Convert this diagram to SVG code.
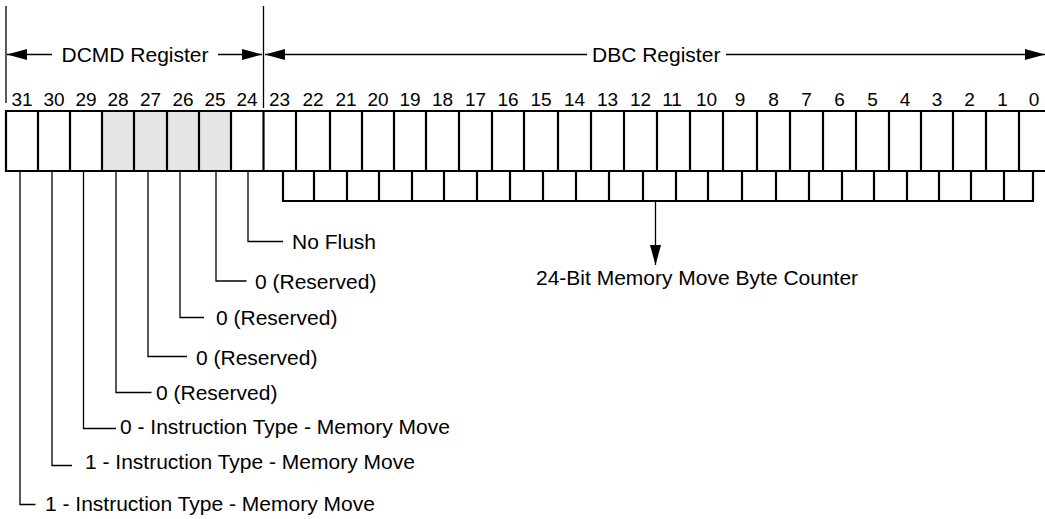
<svg xmlns="http://www.w3.org/2000/svg" width="1045" height="519" viewBox="0 0 1045 519">
<style>
text{font-family:"Liberation Sans",Arial,sans-serif;fill:#000}
.lbl{font-size:21px}
.num{font-size:19px;text-anchor:middle}
.box{fill:none;stroke:#000;stroke-width:2.2}
.gray{fill:#e6e6e6;stroke:none}
.ln{fill:none;stroke:#000;stroke-width:1.3}
.arr{fill:none;stroke:#000;stroke-width:1.3;marker-end:url(#ah)}
</style>
<defs>
<marker id="ah" markerUnits="userSpaceOnUse" markerWidth="20" markerHeight="12" refX="20" refY="6" orient="auto">
<path d="M0,0.5 L20,6 L0,11.5 Z" fill="#000"/>
</marker>
</defs>
<rect width="1045" height="519" fill="#fff"/>
<g id="header">
<path class="ln" d="M6,6 V103 M263.5,6 V108"/>
<path class="arr" d="M52,54.5 H7"/>
<path class="arr" d="M218,54.5 H262"/>
<path class="arr" d="M587,54.5 H265"/>
<path class="arr" d="M726,54.5 H1045"/>
<text class="lbl" x="61.5" y="61.5">DCMD Register</text>
<text class="lbl" x="592" y="61.5">DBC Register</text>
</g>
<g id="bit-numbers">
<text class="num" x="22" y="106">31</text>
<text class="num" x="54" y="106">30</text>
<text class="num" x="86" y="106">29</text>
<text class="num" x="118" y="106">28</text>
<text class="num" x="150.5" y="106">27</text>
<text class="num" x="183" y="106">26</text>
<text class="num" x="215" y="106">25</text>
<text class="num" x="247" y="106">24</text>
<text class="num" x="279.5" y="106">23</text>
<text class="num" x="313" y="106">22</text>
<text class="num" x="346" y="106">21</text>
<text class="num" x="378" y="106">20</text>
<text class="num" x="410" y="106">19</text>
<text class="num" x="442.5" y="106">18</text>
<text class="num" x="475.5" y="106">17</text>
<text class="num" x="508" y="106">16</text>
<text class="num" x="541" y="106">15</text>
<text class="num" x="574.5" y="106">14</text>
<text class="num" x="607.5" y="106">13</text>
<text class="num" x="640.5" y="106">12</text>
<text class="num" x="672" y="106">11</text>
<text class="num" x="706.5" y="106">10</text>
<text class="num" x="740" y="106">9</text>
<text class="num" x="773.5" y="106">8</text>
<text class="num" x="806.5" y="106">7</text>
<text class="num" x="839.5" y="106">6</text>
<text class="num" x="872.5" y="106">5</text>
<text class="num" x="905" y="106">4</text>
<text class="num" x="937" y="106">3</text>
<text class="num" x="969.5" y="106">2</text>
<text class="num" x="1002.5" y="106">1</text>
<text class="num" x="1034" y="106">0</text>
</g>
<g id="register-cells">
<rect class="gray" x="102" y="111" width="129" height="60"/>
<path class="box" d="M1046,111 H6 V171 H1046 M38,111 V171 M70,111 V171 M102,111 V171 M134,111 V171 M167,111 V171 M199,111 V171 M231,111 V171 M263.5,111 V171 M296,111 V171 M330,111 V171 M362,111 V171 M394,111 V171 M426,111 V171 M459,111 V171 M492,111 V171 M524,111 V171 M558,111 V171 M591,111 V171 M624,111 V171 M657,111 V171 M690,111 V171 M723,111 V171 M757,111 V171 M790,111 V171 M823,111 V171 M856,111 V171 M889,111 V171 M921,111 V171 M953,111 V171 M986,111 V171 M1019,111 V171"/>
</g>
<g id="byte-counter-cells">
<path class="box" d="M283,171 V201 H1033 V171 M314,171 V201 M347,171 V201 M379,171 V201 M412,171 V201 M444,171 V201 M477,171 V201 M510,171 V201 M543,171 V201 M576,171 V201 M609,171 V201 M643,171 V201 M676,171 V201 M708,171 V201 M742,171 V201 M776,171 V201 M809,171 V201 M842,171 V201 M874,171 V201 M907,171 V201 M939,171 V201 M971,171 V201 M1004,171 V201"/>
</g>
<g id="connectors">
<path class="ln" d="M248,172 V241.5 H283"/>
<path class="ln" d="M216,172 V281 H246.5"/>
<path class="ln" d="M180,172 V317.5 H204"/>
<path class="ln" d="M148,172 V356.5 H187"/>
<path class="ln" d="M116,172 V392.5 H151.5"/>
<path class="ln" d="M83.5,172 V428.5 H116"/>
<path class="ln" d="M52,172 V465.5 H72"/>
<path class="ln" d="M20,172 V504.5 H35.5"/>
<path class="arr" d="M655.5,202 V265"/>
</g>
<g id="labels">
<text class="lbl" x="292" y="249">No Flush</text>
<text class="lbl" x="255" y="289">0 (Reserved)</text>
<text class="lbl" x="216" y="324.5">0 (Reserved)</text>
<text class="lbl" x="196" y="364.5">0 (Reserved)</text>
<text class="lbl" x="156" y="400">0 (Reserved)</text>
<text class="lbl" x="120" y="433.5">0 - Instruction Type - Memory Move</text>
<text class="lbl" x="85" y="468.5">1 - Instruction Type - Memory Move</text>
<text class="lbl" x="45" y="511">1 - Instruction Type - Memory Move</text>
<text class="lbl" x="536" y="285">24-Bit Memory Move Byte Counter</text>
</g>
</svg>
